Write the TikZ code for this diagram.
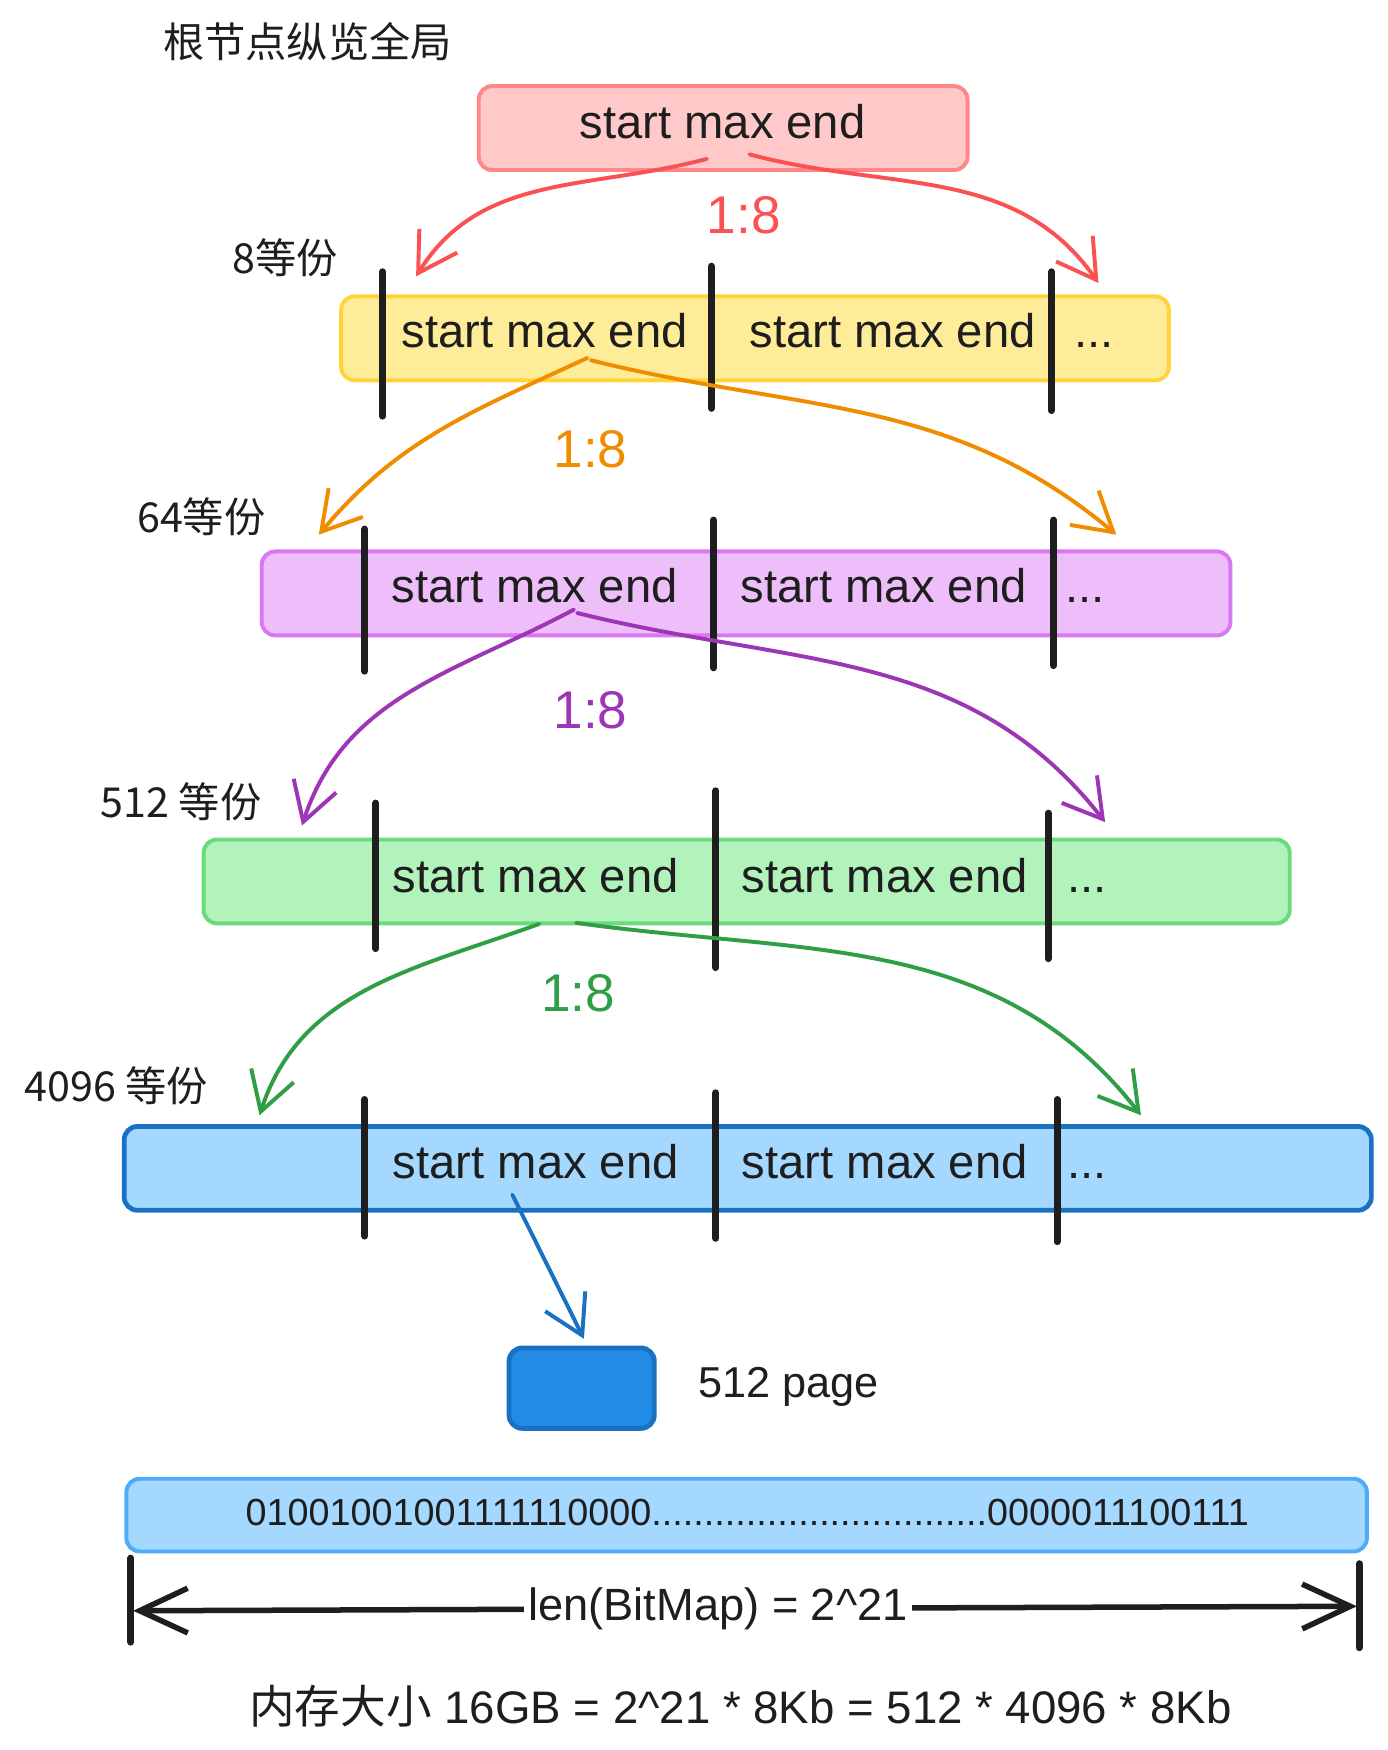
\documentclass[tikz,border=0pt]{standalone}
\usepackage{fontspec}
\setmainfont{Liberation Sans}
\newfontfamily\cjk{Noto Sans CJK SC}
\usetikzlibrary{arrows.meta,calc,positioning}

\definecolor{inkblack}{HTML}{1E1E1E}
\definecolor{redfill}{HTML}{FFC9C9}
\definecolor{redline}{HTML}{FF8787}
\definecolor{redarrow}{HTML}{FA5252}
\definecolor{yellowfill}{HTML}{FFEC99}
\definecolor{yellowline}{HTML}{FFD43B}
\definecolor{orangearrow}{HTML}{F08C00}
\definecolor{purplefill}{HTML}{EEBEFA}
\definecolor{purpleline}{HTML}{DA77F2}
\definecolor{purplearrow}{HTML}{9C36B5}
\definecolor{greenfill}{HTML}{B2F2BB}
\definecolor{greenline}{HTML}{69DB7C}
\definecolor{greenarrow}{HTML}{2F9E44}
\definecolor{bluefill}{HTML}{A5D8FF}
\definecolor{blueline}{HTML}{1971C2}
\definecolor{pagefill}{HTML}{228BE6}
\definecolor{bitline}{HTML}{4DABF7}

\begin{document}
\begin{tikzpicture}[>={Straight Barb[length=3.4mm,width=4mm]},line cap=round,
  font=\fontsize{12}{14}\selectfont,text=inkblack]
  \useasboundingbox (0,0) rectangle (12.40,-15.645);
  \tikzstyle{row box}=[draw,rounded corners=0.12cm,line width=1pt,minimum height=0.75cm,inner sep=0pt]
  \tikzstyle{cell text}=[anchor=base,inner sep=0pt]
  \tikzstyle{split bar}=[draw=inkblack,line width=1.8pt]
  \tikzstyle{ratio label}=[font=\fontsize{13.5}{15}\selectfont]
  \tikzstyle{level label}=[font=\cjk\fontsize{10.5}{12}\selectfont]
  \tikzstyle{split arrow}=[->,line width=1pt]

  % root
  \node[level label] (title) at (2.75,-0.37) {根节点纵览全局};
  \node[row box,fill=redfill,draw=redline,minimum width=4.37cm] (root) at (6.465,-1.145) {};
  \node[cell text] (t0) at (6.46,-1.24) {start max end};

  % 8 parts
  \node[level label] (lv1) at (2.55,-2.30) {8等份};
  \node[row box,fill=yellowfill,draw=yellowline,minimum width=7.40cm] (row1) at (6.75,-3.025) {};
  \node[cell text] (t1a) at (4.87,-3.11) {start max end};
  \node[cell text] (t1b) at (7.98,-3.11) {start max end};
  \node[cell text] (d1) at (9.78,-3.11) {...};
  \draw[split bar] (3.42,-2.43) -- (3.42,-3.72);
  \draw[split bar] (6.36,-2.38) -- (6.36,-3.65);
  \draw[split bar] (9.40,-2.43) -- (9.40,-3.67);

  % 64 parts
  \node[level label] (lv2) at (1.80,-4.62) {64等份};
  \node[row box,fill=purplefill,draw=purpleline,minimum width=8.66cm] (row2) at (6.67,-5.305) {};
  \node[cell text] (t2a) at (4.78,-5.39) {start max end};
  \node[cell text] (t2b) at (7.90,-5.39) {start max end};
  \node[cell text] (d2) at (9.70,-5.39) {...};
  \draw[split bar] (3.26,-4.73) -- (3.26,-6.00);
  \draw[split bar] (6.38,-4.65) -- (6.38,-5.97);
  \draw[split bar] (9.42,-4.65) -- (9.42,-5.95);

  % 512 parts
  \node[level label] (lv3) at (1.62,-7.17) {512 等份};
  \node[row box,fill=greenfill,draw=greenline,minimum width=9.71cm] (row3) at (6.675,-7.88) {};
  \node[cell text] (t3a) at (4.79,-7.98) {start max end};
  \node[cell text] (t3b) at (7.91,-7.98) {start max end};
  \node[cell text] (d3) at (9.72,-7.98) {...};
  \draw[split bar] (3.36,-7.18) -- (3.36,-8.48);
  \draw[split bar] (6.40,-7.07) -- (6.40,-8.65);
  \draw[split bar] (9.37,-7.27) -- (9.37,-8.57);

  % 4096 parts
  \node[level label] (lv4) at (1.04,-9.71) {4096 等份};
  \node[row box,fill=bluefill,draw=blueline,line width=1.2pt,minimum width=11.15cm] (row4) at (6.685,-10.445) {};
  \node[cell text] (t4a) at (4.79,-10.54) {start max end};
  \node[cell text] (t4b) at (7.91,-10.54) {start max end};
  \node[cell text] (d4) at (9.72,-10.54) {...};
  \draw[split bar] (3.26,-9.83) -- (3.26,-11.05);
  \draw[split bar] (6.40,-9.77) -- (6.40,-11.07);
  \draw[split bar] (9.45,-9.83) -- (9.45,-11.10);

  % arrow ends
  \coordinate (r1) at (3.72,-2.47);
  \coordinate (r2) at (9.82,-2.53);
  \coordinate (o1) at (2.85,-4.78);
  \coordinate (o2) at (9.98,-4.78);
  \coordinate (p1) at (2.70,-7.38);
  \coordinate (p2) at (9.88,-7.35);
  \coordinate (g1) at (2.32,-9.97);
  \coordinate (g2) at (10.20,-9.97);

  \draw[split arrow,redarrow] ($(t0.base)+(-0.14,-0.18)$) to[out=195,in=58] (r1);
  \draw[split arrow,redarrow] ($(t0.base)+(0.24,-0.14)$) to[out=-15,in=125] (r2);
  \node[ratio label,text=redarrow] (k0) at (6.65,-1.92) {1:8};

  \draw[split arrow,orangearrow] ($(t1a.base)+(0.38,-0.09)$) to[out=205,in=50] (o1);
  \draw[split arrow,orangearrow] ($(t1a.base)+(0.41,-0.11)$) to[out=-14,in=140] (o2);
  \node[ratio label,text=orangearrow] (k1) at (5.28,-4.02) {1:8};

  \draw[split arrow,purplearrow] ($(t2a.base)+(0.35,-0.06)$) to[out=208,in=72] (p1);
  \draw[split arrow,purplearrow] ($(t2a.base)+(0.38,-0.09)$) to[out=-14,in=128] (p2);
  \node[ratio label,text=purplearrow] (k2) at (5.28,-6.35) {1:8};

  \draw[split arrow,greenarrow] ($(t3a.base)+(0.03,-0.28)$) to[out=200,in=72] (g1);
  \draw[split arrow,greenarrow] ($(t3a.base)+(0.36,-0.27)$) to[out=-8,in=128] (g2);
  \node[ratio label,text=greenarrow] (k3) at (5.17,-8.88) {1:8};

  % page
  \node[row box,fill=pagefill,draw=blueline,line width=1.2pt,minimum width=1.30cm,minimum height=0.72cm] (page) at (5.20,-12.41) {};
  \node[font=\fontsize{11}{13}\selectfont] (pagetxt) at (7.05,-12.40) {512 page};
  \draw[split arrow,blueline] ($(t4a.base)+(-0.21,-0.14)$) -- ([xshift=0.02cm,yshift=0.06cm]page.north);

  % bitmap
  \node[row box,fill=bluefill,draw=bitline,minimum width=11.09cm,minimum height=0.65cm] (bitmap) at (6.675,-13.545) {};
  \node[font=\fontsize{9.6}{11}\selectfont] (bits) at (6.68,-13.52) {01001001001111110000................................0000011100111};

  % length
  \draw[split bar] (1.17,-13.93) -- (1.17,-14.68);
  \draw[split bar] (12.15,-13.98) -- (12.15,-14.73);
  \coordinate (dl) at (1.19,-14.40);
  \coordinate (dr) at (12.13,-14.36);
  \draw[<->,>={Straight Barb[length=4.3mm,width=4mm]},line width=1.4pt,draw=inkblack] (dl) -- node[pos=0.478,fill=white,inner sep=1pt,font=\fontsize{11.5}{13}\selectfont] (lentxt) {len(BitMap) = 2\textasciicircum{}21} (dr);

  \node[font=\fontsize{11.6}{13}\selectfont] (total) at (6.62,-15.25) {{\cjk 内存大小} 16GB = 2\textasciicircum{}21 * 8Kb = 512 * 4096 * 8Kb};
\end{tikzpicture}
\end{document}
